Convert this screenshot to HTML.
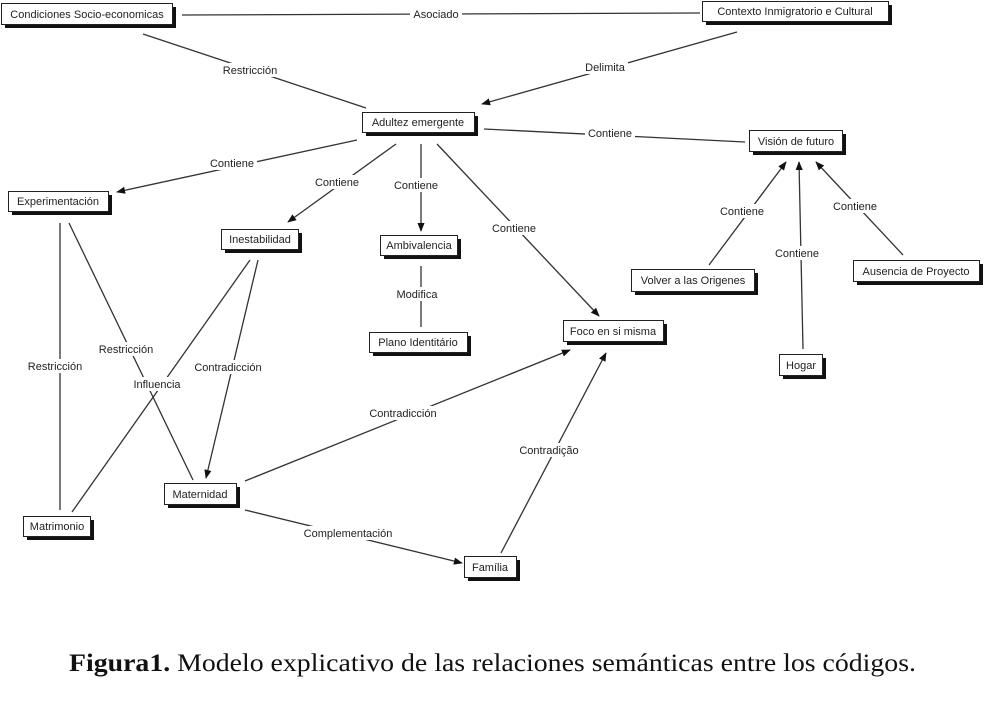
<!DOCTYPE html>
<html><head><meta charset="utf-8"><style>
body{margin:0;background:#fff;width:985px;height:707px;overflow:hidden}
svg text{font-family:"Liberation Sans",sans-serif;font-size:11px;fill:#222}
</style></head><body>
<svg width="985" height="707" viewBox="0 0 985 707" xmlns="http://www.w3.org/2000/svg">
<defs><marker id="a" viewBox="0 0 10 10" refX="9" refY="5" markerWidth="9" markerHeight="9" orient="auto" markerUnits="userSpaceOnUse"><path d="M0,1 L10,5 L0,9 z" fill="#111"/></marker></defs>
<g stroke="#333" stroke-width="1.3" fill="none">
<line x1="182" y1="15" x2="700" y2="13"/>
<line x1="143" y1="34" x2="366" y2="108"/>
<line x1="737" y1="32" x2="482" y2="104" marker-end="url(#a)"/>
<line x1="484" y1="129" x2="745" y2="142"/>
<line x1="357" y1="140" x2="117" y2="192" marker-end="url(#a)"/>
<line x1="396" y1="144" x2="288" y2="222" marker-end="url(#a)"/>
<line x1="421" y1="144" x2="421" y2="231" marker-end="url(#a)"/>
<line x1="437" y1="144" x2="599" y2="316" marker-end="url(#a)"/>
<line x1="709" y1="265" x2="786" y2="162" marker-end="url(#a)"/>
<line x1="803" y1="349" x2="799" y2="162" marker-end="url(#a)"/>
<line x1="903" y1="255" x2="816" y2="162" marker-end="url(#a)"/>
<line x1="421" y1="266" x2="421" y2="327"/>
<line x1="60" y1="223" x2="60" y2="510"/>
<line x1="69" y1="223" x2="193" y2="480"/>
<line x1="250" y1="260" x2="72" y2="512"/>
<line x1="258" y1="260" x2="206" y2="478" marker-end="url(#a)"/>
<line x1="245" y1="481" x2="570" y2="350" marker-end="url(#a)"/>
<line x1="245" y1="510" x2="462" y2="563" marker-end="url(#a)"/>
<line x1="501" y1="553" x2="606" y2="353" marker-end="url(#a)"/>
</g>
<g text-anchor="middle">
<g fill="#fff">
<rect x="410" y="7" width="52" height="14"/><rect x="220" y="63" width="60" height="14"/>
<rect x="582" y="60" width="46" height="14"/><rect x="585" y="126" width="50" height="14"/>
<rect x="207" y="156" width="50" height="14"/><rect x="312" y="175" width="50" height="14"/>
<rect x="391" y="178" width="50" height="14"/><rect x="489" y="221" width="50" height="14"/>
<rect x="717" y="204" width="50" height="14"/><rect x="772" y="246" width="50" height="14"/>
<rect x="830" y="199" width="50" height="14"/><rect x="394" y="287" width="46" height="14"/>
<rect x="25" y="359" width="60" height="14"/><rect x="96" y="342" width="60" height="14"/>
<rect x="130" y="377" width="54" height="14"/><rect x="190" y="360" width="76" height="14"/>
<rect x="365" y="406" width="76" height="14"/><rect x="300" y="526" width="96" height="14"/>
<rect x="515" y="443" width="68" height="14"/>
</g>
<text x="436" y="18">Asociado</text><text x="250" y="74">Restricción</text>
<text x="605" y="71">Delimita</text><text x="610" y="137">Contiene</text>
<text x="232" y="167">Contiene</text><text x="337" y="186">Contiene</text>
<text x="416" y="189">Contiene</text><text x="514" y="232">Contiene</text>
<text x="742" y="215">Contiene</text><text x="797" y="257">Contiene</text>
<text x="855" y="210">Contiene</text><text x="417" y="298">Modifica</text>
<text x="55" y="370">Restricción</text><text x="126" y="353">Restricción</text>
<text x="157" y="388">Influencia</text><text x="228" y="371">Contradicción</text>
<text x="403" y="417">Contradicción</text><text x="348" y="537">Complementación</text>
<text x="549" y="454">Contradição</text>
</g>
<g>
<g fill="#111">
<rect x="5" y="7" width="171" height="21"/><rect x="706" y="5" width="186" height="20"/>
<rect x="366" y="116" width="112" height="20"/><rect x="753" y="134" width="93" height="21"/>
<rect x="12" y="195" width="100" height="20"/><rect x="225" y="233" width="77" height="20"/>
<rect x="384" y="239" width="77" height="20"/><rect x="373" y="336" width="98" height="20"/>
<rect x="567" y="324" width="100" height="21"/><rect x="635" y="273" width="123" height="22"/>
<rect x="857" y="264" width="126" height="21"/><rect x="783" y="358" width="43" height="21"/>
<rect x="168" y="487" width="72" height="21"/><rect x="27" y="520" width="67" height="20"/>
<rect x="468" y="560" width="52" height="21"/>
</g>
<g fill="#fff" stroke="#222" stroke-width="1">
<rect x="1.5" y="3.5" width="171" height="21"/><rect x="702.5" y="1.5" width="186" height="20"/>
<rect x="362.5" y="112.5" width="112" height="20"/><rect x="749.5" y="130.5" width="93" height="21"/>
<rect x="8.5" y="191.5" width="100" height="20"/><rect x="221.5" y="229.5" width="77" height="20"/>
<rect x="380.5" y="235.5" width="77" height="20"/><rect x="369.5" y="332.5" width="98" height="20"/>
<rect x="563.5" y="320.5" width="100" height="21"/><rect x="631.5" y="269.5" width="123" height="22"/>
<rect x="853.5" y="260.5" width="126" height="21"/><rect x="779.5" y="354.5" width="43" height="21"/>
<rect x="164.5" y="483.5" width="72" height="21"/><rect x="23.5" y="516.5" width="67" height="20"/>
<rect x="464.5" y="556.5" width="52" height="21"/>
</g>
<g text-anchor="middle">
<text x="87" y="18">Condiciones Socio-economicas</text><text x="795" y="15">Contexto Inmigratorio e Cultural</text>
<text x="418" y="126">Adultez emergente</text><text x="796" y="145">Visión de futuro</text>
<text x="58" y="205">Experimentación</text><text x="260" y="243">Inestabilidad</text>
<text x="419" y="249">Ambivalencia</text><text x="418" y="346">Plano Identitário</text>
<text x="613" y="335">Foco en si misma</text><text x="693" y="284">Volver a las Origenes</text>
<text x="916" y="275">Ausencia de Proyecto</text><text x="801" y="369">Hogar</text>
<text x="200" y="498">Maternidad</text><text x="57" y="530">Matrimonio</text>
<text x="490" y="571">Família</text>
</g>
</g>
<text x="69" y="671" textLength="847" lengthAdjust="spacingAndGlyphs" style="font-family:'Liberation Serif',serif;font-size:25px;fill:#111"><tspan font-weight="bold">Figura1.</tspan> Modelo explicativo de las relaciones semánticas entre los códigos.</text>
</svg>
</body></html>
